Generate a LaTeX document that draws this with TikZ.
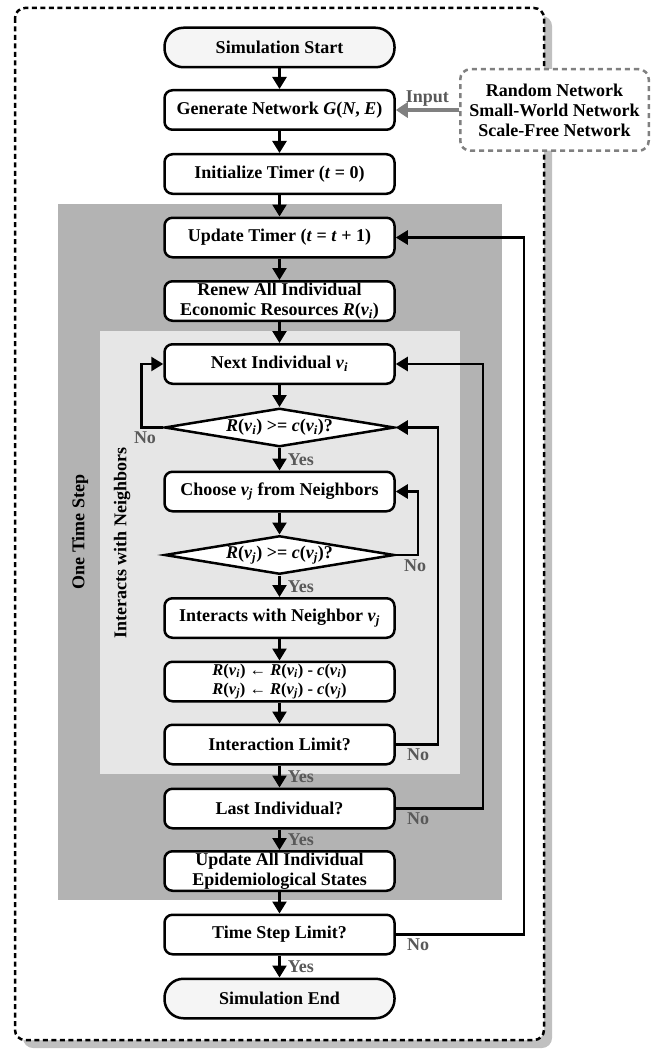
\documentclass[tikz,border=0pt]{standalone}
\usepackage{fontspec}
\setmainfont{Liberation Serif}
\usetikzlibrary{arrows.meta,shapes.geometric}

\definecolor{stepgray}{HTML}{B3B3B3}
\definecolor{loopgray}{HTML}{E6E6E6}
\definecolor{shadowgray}{HTML}{C0C0C0}
\definecolor{termfill}{HTML}{F5F5F5}
\definecolor{inputgray}{HTML}{808080}
\definecolor{labgray}{HTML}{595959}

\newcommand{\vsub}[1]{\textit{v}\textsubscript{\textit{#1}}}

\tikzset{
  proc/.style={draw, line width=2.5pt, rounded corners=8pt, fill=white,
    minimum width=230pt, minimum height=39.5pt, align=center, inner sep=1pt},
  term/.style={proc, rounded corners=19pt, fill=termfill},
  decide/.style={draw, diamond, aspect=5.7, line width=2.5pt, fill=white,
    minimum width=230pt, minimum height=38.5pt, inner sep=0pt},
  arr/.style={line width=2.5pt, -{Triangle[length=12pt,width=14pt]}},
  inarr/.style={line width=4pt, inputgray, -{Triangle[length=12pt,width=15pt]}},
  yeslab/.style={right, xshift=7pt, inner sep=0pt, text=labgray},
  nolab/.style={inner sep=0pt, text=labgray},
}

\begin{document}
\begin{tikzpicture}[x=1pt, y=-1pt, font=\fontsize{18}{20}\selectfont\bfseries]
   \useasboundingbox (0,0) rectangle (655,1051);

   % frame and shaded areas
   \fill[shadowgray, rounded corners=10pt] (23,16) rectangle (552,1048);
   \draw[fill=white, line width=2.5pt, dash pattern=on 5pt off 3.5pt, rounded corners=10pt] (15,8) rectangle (544,1040);
   \fill[stepgray] (58,204) rectangle (502,900);
   \fill[loopgray] (100,331) rectangle (460,774);

   \draw (80,532) node[rotate=90] (steplab) {One Time Step};
   \draw (122,543) node[rotate=90] (looplab) {Interacts with Neighbors};

   % main column
   \draw (279.5,47.5) node[term] (start) {Simulation Start};
     \draw (279.5,110) node[proc] (gen) {Generate Network \textit{G}(\textit{N}, \textit{E})};
     \draw (279.5,174) node[proc] (init) {Initialize Timer (\textit{t} = 0)};
     \draw (279.5,237.5) node[proc] (upd) {Update Timer (\textit{t} = \textit{t} + 1)};
     \draw (279.5,301) node[proc] (renew) {Renew All Individual\\Economic Resources \textit{R}(\vsub{i})};
         \draw (279.5,364) node[proc] (next) {Next Individual \vsub{i}};
         \draw (279.5,427.5) node[decide] (dec1) {\textit{R}(\vsub{i}) >= \textit{c}(\vsub{i})?};
         \draw (279.5,491.5) node[proc] (choose) {Choose \vsub{j} from Neighbors};
         \draw (279.5,555) node[decide] (dec2) {\textit{R}(\vsub{j}) >= \textit{c}(\vsub{j})?};
         \draw (279.5,618) node[proc] (inter) {Interacts with Neighbor \vsub{j}};
         \draw (279.5,681.5) node[proc, font=\fontsize{16.5}{19}\selectfont\bfseries] (pay)
            {\textit{R}(\vsub{i}) ← \textit{R}(\vsub{i}) - \textit{c}(\vsub{i})\\
             \textit{R}(\vsub{j}) ← \textit{R}(\vsub{j}) - \textit{c}(\vsub{j})};
         \draw (279.5,744.5) node[proc] (ilimit) {Interaction Limit?};
     \draw (279.5,808.5) node[proc] (last) {Last Individual?};
     \draw (279.5,871) node[proc] (updall) {Update All Individual\\Epidemiological States};
     \draw (279.5,934.5) node[proc] (tlimit) {Time Step Limit?};
   \draw (279.5,998.5) node[term] (finish) {Simulation End};

   % input networks
   \draw (554.5,110) node[draw=inputgray, line width=2.5pt, dash pattern=on 5pt off 4pt,
      rounded corners=10pt, fill=white, minimum width=188.5pt, minimum height=81.5pt,
      align=center] (nets) {Random Network\\Small-World Network\\Scale-Free Network};
   \path[inarr] (nets) edge node[above, nolab, inner sep=2pt] {Input} (gen);

   % straight flow
   \path[arr] (start) edge (gen)
              (gen) edge (init)
              (init) edge (upd)
              (upd) edge (renew)
              (renew) edge (next)
              (next) edge (dec1)
              (dec1) edge node[yeslab] {Yes} (choose)
              (choose) edge (dec2)
              (dec2) edge node[yeslab] {Yes} (inter)
              (inter) edge (pay)
              (pay) edge (ilimit)
              (ilimit) edge node[yeslab] {Yes} (last)
              (last) edge node[yeslab] {Yes} (updall)
              (updall) edge (tlimit)
              (tlimit) edge node[yeslab] {Yes} (finish);

   % loops back
   \draw[arr] (dec1.west) node[nolab, below left, xshift=-6pt, yshift=-3pt] {No} -- ++(-22,0) |- (next.west);
   \draw[arr] (dec2.east) node[nolab, below right, xshift=7pt, yshift=-3pt] {No} -- ++(22,0) |- (choose.east);
   \draw[arr] (ilimit.east) node[nolab, below right, xshift=10pt, yshift=-3pt] {No} -- ++(42,0) |- (dec1.east);
   \draw[arr] (last.east) node[nolab, below right, xshift=10pt, yshift=-3pt] {No} -- ++(87,0) |- (next.east);
   \draw[arr] (tlimit.east) node[nolab, below right, xshift=10pt, yshift=-3pt] {No} -- ++(128,0) |- (upd.east);
\end{tikzpicture}
\end{document}
